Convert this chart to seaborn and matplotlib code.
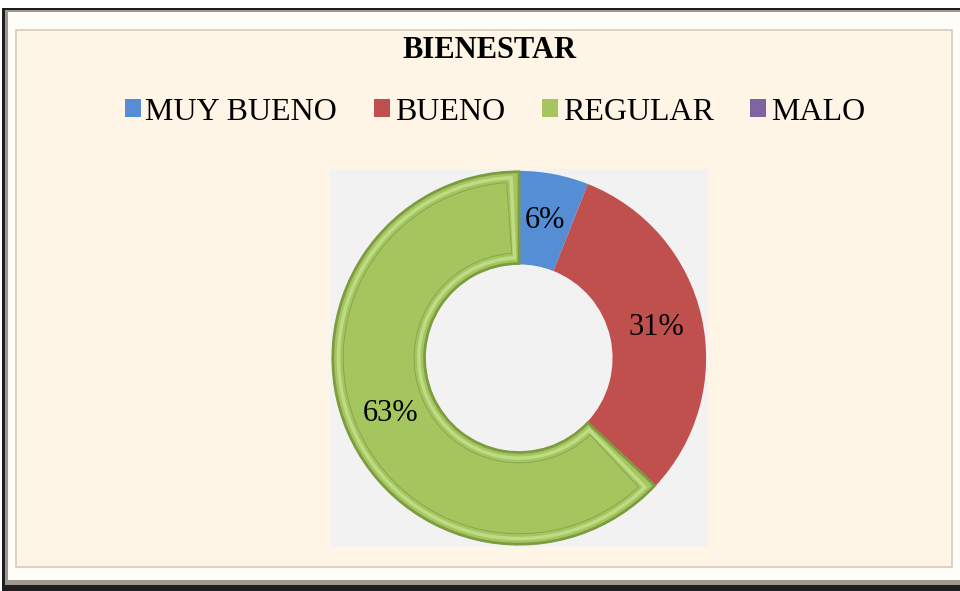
import matplotlib.pyplot as plt
import matplotlib.patches as mpatches
import numpy as np
import seaborn as sns

categories = ['MUY BUENO', 'BUENO', 'REGULAR', 'MALO']
values = [6, 31, 63, 0]
colors = ['#558ED5', '#C0504D', '#A5C65F', '#8064A2']
title = 'BIENESTAR'

sns.set_style('white')
plt.rcParams['font.family'] = ['Liberation Serif', 'DejaVu Serif']
plt.rcParams['text.color'] = 'black'

fig = plt.figure(figsize=(9.6, 5.91), dpi=100)
fig.patch.set_facecolor('white')

# chart frame with bevel
W, H = 960, 591
def box(x0, y0, x1, y1, **kw):
    return mpatches.Rectangle((x0 / W, 1 - y1 / H), (x1 - x0) / W, (y1 - y0) / H,
                              transform=fig.transFigure, zorder=-5, **kw)

fig.patches.append(box(2, 8, 970, 591, facecolor='#1E1E1E', edgecolor='none'))
fig.patches.append(box(5, 10, 970, 585, facecolor='#A09890', edgecolor='none'))
fig.patches.append(box(8, 12, 970, 580, facecolor='#FFFDF8', edgecolor='none'))
fig.patches.append(box(16, 30, 952, 567, facecolor='#FFF5E6', edgecolor='#D8CABA', linewidth=1.2))

ax = fig.add_axes([330 / W, 1 - 548 / H, 378 / W, 380 / H])
ax.set_zorder(2)

nonzero = [i for i, v in enumerate(values) if v > 0]
wedges, texts, autotexts = ax.pie(
    [values[i] for i in nonzero],
    colors=[colors[i] for i in nonzero],
    startangle=90, counterclock=False, radius=0.99,
    autopct=lambda p: f'{p:.0f}%', pctdistance=0.75,
    wedgeprops=dict(width=0.495, linewidth=0),
    textprops=dict(fontsize=22, color='black'))

# bevel look on the regular slice
g = wedges[nonzero.index(2)]
theta1, theta2 = g.theta1, g.theta2
ax.add_patch(mpatches.Wedge((0, 0), 0.985, theta1, theta2, width=0.485,
                            facecolor='none', edgecolor='#7D9C40', linewidth=2.0))
ax.add_patch(mpatches.Wedge((0, 0), 0.955, theta1 + 2.5, theta2 - 2.5, width=0.425,
                            facecolor='none', edgecolor='#BEDB85', linewidth=2.5))
ax.add_patch(mpatches.Wedge((0, 0), 0.93, theta1 + 4, theta2 - 4, width=0.375,
                            facecolor='none', edgecolor='#89A64C', linewidth=0.7))
for t in autotexts:
    t.set_zorder(5)

ax.set_xlim(-1.0, 1.0)
ax.set_ylim(-1.0, 1.0)
ax.set_aspect('equal')
ax.set_frame_on(True)
ax.patch.set_visible(True)
ax.set_facecolor('#F2F2F2')
for s in ax.spines.values():
    s.set_visible(False)
ax.set_xticks([])
ax.set_yticks([])

fig.text(490 / W, 1 - 50 / H, title, ha='center', va='center',
         fontsize=22, fontweight='bold', color='black')

handles = [mpatches.Patch(facecolor=c, edgecolor='none') for c in colors]
fig.legend(handles, categories, loc='center', bbox_to_anchor=(495 / W, 1 - 112 / H),
           ncol=4, frameon=False, fontsize=23, handlelength=0.5, handleheight=0.5,
           handletextpad=0.15, columnspacing=1.15, labelcolor='black')

fig.savefig('out.png', dpi=100, facecolor=fig.get_facecolor())
